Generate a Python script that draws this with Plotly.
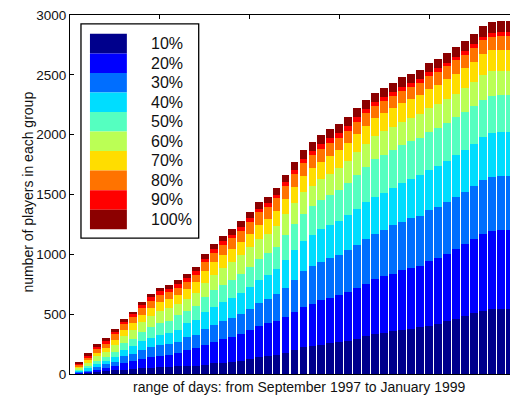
import plotly.graph_objects as go

# x positions of the bars (one bar per period)
days = list(range(1, 51))

groups = ["10%", "20%", "30%", "40%", "50%", "60%", "70%", "80%", "90%", "100%"]
colors = ["#00008C", "#0000FF", "#006EFF", "#00DDFF", "#55FFC0",
          "#BBFF55", "#FFDD00", "#FF7300", "#FF0000", "#8C0000"]

# cumulative height at the top of each group's band
top_10 = [5, 11, 17, 25, 30, 33, 41, 50, 50, 58, 58, 66, 66, 66, 75, 91, 91, 99, 108, 124,
          141, 149, 157, 174, 199, 224, 232, 240, 257, 265, 273, 290, 315, 331, 340, 356, 365, 373, 390, 398,
          414, 439, 456, 481, 506, 530, 547, 547, 547, 547]
top_20 = [12, 22, 33, 50, 66, 91, 105, 125, 140, 152, 160, 174, 199, 215, 245, 270, 290, 310, 335, 365,
          400, 423, 445, 475, 514, 564, 588, 622, 638, 663, 688, 721, 754, 796, 820, 837, 870, 887, 903, 945,
          970, 1003, 1044, 1086, 1127, 1168, 1193, 1202, 1202, 1202]
top_30 = [20, 33, 58, 83, 99, 149, 170, 200, 222, 240, 250, 265, 307, 330, 375, 410, 440, 465, 500, 540,
          590, 630, 665, 720, 787, 862, 903, 936, 970, 994, 1036, 1077, 1127, 1168, 1202, 1243, 1268, 1301, 1318, 1367,
          1392, 1434, 1483, 1525, 1570, 1620, 1650, 1657, 1657, 1657]
top_40 = [29, 47, 83, 108, 141, 199, 230, 275, 305, 330, 345, 365, 423, 455, 515, 560, 600, 635, 675, 725,
          785, 830, 875, 950, 1036, 1110, 1160, 1210, 1243, 1276, 1326, 1376, 1434, 1483, 1516, 1554, 1596, 1627, 1659, 1707,
          1739, 1783, 1827, 1871, 1921, 1978, 2012, 2022, 2022, 2022]
top_50 = [39, 66, 108, 141, 182, 257, 295, 350, 390, 425, 445, 489, 530, 570, 645, 700, 745, 785, 835, 895,
          965, 1010, 1065, 1160, 1251, 1334, 1400, 1450, 1492, 1535, 1592, 1666, 1734, 1798, 1833, 1870, 1913, 1944, 1974, 2024,
          2055, 2100, 2144, 2188, 2237, 2292, 2324, 2329, 2329, 2329]
top_60 = [53, 94, 149, 182, 240, 320, 371, 436, 486, 526, 548, 588, 630, 676, 762, 831, 887, 938, 995, 1058,
          1129, 1172, 1239, 1333, 1427, 1517, 1574, 1628, 1674, 1718, 1779, 1855, 1926, 1989, 2027, 2064, 2109, 2139, 2170, 2222,
          2253, 2298, 2344, 2389, 2441, 2502, 2533, 2536, 2536, 2536]
top_70 = [64, 113, 174, 215, 283, 365, 423, 496, 554, 598, 623, 663, 713, 765, 861, 934, 993, 1045, 1105, 1173,
          1248, 1293, 1365, 1464, 1564, 1657, 1720, 1775, 1823, 1869, 1929, 2006, 2074, 2139, 2179, 2219, 2265, 2298, 2328, 2383,
          2414, 2462, 2508, 2556, 2609, 2673, 2704, 2710, 2710, 2710]
top_80 = [79, 138, 207, 257, 332, 415, 476, 553, 614, 660, 683, 721, 771, 828, 933, 1013, 1078, 1135, 1199, 1271,
          1351, 1398, 1469, 1571, 1670, 1765, 1827, 1883, 1931, 1973, 2032, 2108, 2177, 2240, 2280, 2321, 2369, 2401, 2435, 2490,
          2522, 2570, 2620, 2667, 2723, 2787, 2818, 2826, 2826, 2826]
top_90 = [87, 152, 224, 273, 349, 435, 499, 578, 642, 690, 714, 753, 799, 857, 963, 1044, 1108, 1164, 1229, 1301,
          1381, 1428, 1499, 1601, 1702, 1798, 1861, 1919, 1969, 2011, 2069, 2145, 2214, 2272, 2313, 2353, 2401, 2433, 2465, 2521,
          2553, 2602, 2650, 2698, 2754, 2819, 2851, 2859, 2859, 2859]
total = [99, 174, 249, 298, 373, 456, 522, 605, 671, 721, 746, 787, 837, 895, 1003, 1086, 1152, 1210, 1276, 1351,
         1434, 1483, 1558, 1666, 1773, 1873, 1939, 1997, 2047, 2088, 2146, 2221, 2287, 2345, 2387, 2428, 2478, 2511, 2544, 2602,
         2635, 2685, 2735, 2784, 2842, 2909, 2942, 2950, 2950, 2950]

y_ticks = [0, 500, 1000, 1500, 2000, 2500, 3000]
top_ticks = [10, 20, 30, 40, 50]

tops = [top_10, top_20, top_30, top_40, top_50, top_60, top_70, top_80, top_90, total]

FONT = "Liberation Sans, Arial, Helvetica, sans-serif"
fig = go.Figure()
prev = [0] * len(days)
for name, col, cur in zip(groups, colors, tops):
    counts = [c - p for c, p in zip(cur, prev)]
    fig.add_trace(go.Bar(x=days, y=counts, name=name, marker=dict(color=col, line=dict(width=0)),
                         showlegend=False, hoverinfo="skip"))
    prev = cur

# invisible trace to carry the top axis
fig.add_trace(go.Scatter(x=[days[0]], y=[0], xaxis="x2", mode="markers",
                         marker=dict(opacity=0), showlegend=False, hoverinfo="skip"))

# page body has an 8px margin: figure sits at (8, 8) in the window
W, H = 510, 391
L, R, T, B = 62, 0, 4, 25
pw, ph = W - L - R, H - T - B
XMAX = 49.78


def px(xw):  # window x -> paper
    return (xw - 8 - L) / pw


def py(yw):  # window y -> paper
    return (H - B - (yw - 8)) / ph


shapes = []
annotations = []
# legend box
shapes.append(dict(type="rect", xref="paper", yref="paper",
                   x0=px(81), x1=px(199), y0=py(237), y1=py(21),
                   line=dict(color="black", width=1.3), fillcolor="white", layer="above"))
step = 19.7
for k, (name, col) in enumerate(zip(groups, colors)):
    t0 = 31 + step * k
    t1 = 31 + step * (k + 1)
    shapes.append(dict(type="rect", xref="paper", yref="paper",
                       x0=px(90), x1=px(127), y0=py(t1), y1=py(t0),
                       line=dict(width=0), fillcolor=col, layer="above"))
    annotations.append(dict(text=name, xref="paper", yref="paper", x=px(149), y=py((t0 + t1) / 2),
                            xanchor="left", yanchor="middle", showarrow=False,
                            font=dict(size=16, color="#111", family=FONT)))

annotations.append(dict(text="number of players in each group", xref="paper", yref="paper",
                        x=px(27), y=py(191), textangle=-90, showarrow=False,
                        xanchor="center", yanchor="middle",
                        font=dict(size=14, color="#111", family=FONT)))
annotations.append(dict(text="range of days: from September 1997 to January 1999", xref="paper", yref="paper",
                        x=px(300), y=py(387), showarrow=False, xanchor="center", yanchor="middle",
                        font=dict(size=14, color="#111", family=FONT)))

fig.update_layout(
    width=W, height=H, margin=dict(l=L, r=R, t=T, b=B),
    barmode="stack", bargap=0.12,
    plot_bgcolor="white", paper_bgcolor="white",
    font=dict(family=FONT, color="#111"),
    xaxis=dict(range=[0, XMAX], showline=True, linecolor="black", linewidth=1, mirror=True,
               ticks="", showticklabels=False, showgrid=False, zeroline=False, fixedrange=True),
    xaxis2=dict(range=[0, XMAX], overlaying="x", side="top", ticks="inside", ticklen=4,
                tickcolor="black", tickvals=top_ticks, showticklabels=False, showline=False,
                showgrid=False, zeroline=False),
    yaxis=dict(range=[0, 3000], showline=True, linecolor="black", linewidth=1, mirror=True,
               ticks="inside", ticklen=4, tickcolor="black", tickvals=y_ticks,
               ticklabeloverflow="allow",
               tickfont=dict(size=13.5, color="#111", family=FONT),
               showgrid=False, zeroline=False),
    shapes=shapes, annotations=annotations,
)

fig.write_html("out.html")
